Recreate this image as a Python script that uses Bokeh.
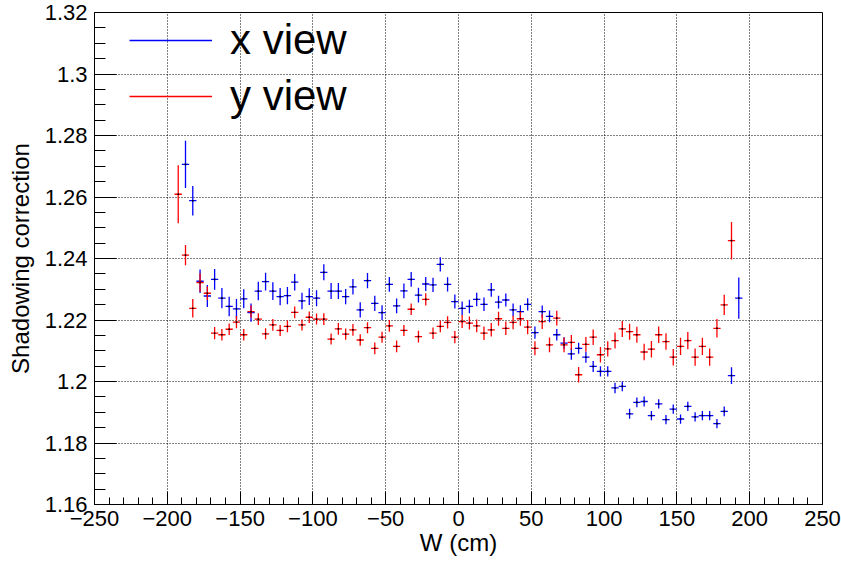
import numpy as np
from bokeh.plotting import figure
from bokeh.models import (ColumnDataSource, Range1d, FixedTicker, Legend,
                          LegendItem)
from bokeh.embed import file_html
from bokeh.resources import INLINE

# ---------------- data ----------------
bin_width = 5.0
x_view_w = [float(v) for v in np.arange(-187.5, 193.0, 5.0)]
y_view_w = [float(v) for v in np.arange(-192.5, 188.0, 5.0)]

x_view_val = [
    1.2706, 1.2588, 1.2326, 1.2278, 1.2332, 1.2271, 1.2244, 1.2236, 1.2269, 1.2224,
    1.2294, 1.2325, 1.2294, 1.2276, 1.2279, 1.2323, 1.2262, 1.2276, 1.2271, 1.2355,
    1.2294, 1.2294, 1.2276, 1.2308, 1.2233, 1.2328, 1.2254, 1.2224, 1.2316, 1.2246,
    1.2295, 1.2332, 1.2281, 1.2317, 1.2314, 1.2381, 1.2316, 1.2260, 1.2238, 1.2244,
    1.2267, 1.2251, 1.2298, 1.2258, 1.2265, 1.2233, 1.2227, 1.2251, 1.2159, 1.2227,
    1.2212, 1.2152, 1.2125, 1.2090, 1.2108, 1.2079, 1.2049, 1.2033, 1.2033, 1.1979,
    1.1984, 1.1895, 1.1932, 1.1935, 1.1889, 1.1927, 1.1876, 1.1910, 1.1878, 1.1919,
    1.1885, 1.1889, 1.1889, 1.1863, 1.1903, 1.2019, 1.2271]
x_view_err = [
    .0077, .0048, .0038, .0036, .0034, .0033, .0032, .0032, .0031, .0030,
    .0030, .0029, .0029, .0028, .0028, .0027, .0027, .0027, .0026, .0026,
    .0026, .0026, .0025, .0025, .0025, .0025, .0025, .0024, .0024, .0024,
    .0024, .0024, .0024, .0023, .0023, .0023, .0023, .0023, .0022, .0022,
    .0022, .0022, .0022, .0021, .0021, .0021, .0021, .0020, .0020, .0020,
    .0019, .0019, .0019, .0019, .0018, .0018, .0018, .0017, .0017, .0017,
    .0016, .0016, .0016, .0016, .0015, .0015, .0015, .0015, .0015, .0015,
    .0015, .0015, .0015, .0015, .0016, .0027, .0067]

y_view_val = [
    1.2609, 1.2411, 1.2238, 1.2322, 1.2287, 1.2157, 1.2152, 1.2170, 1.2193, 1.2152,
    1.2227, 1.2203, 1.2155, 1.2184, 1.2166, 1.2179, 1.2225, 1.2184, 1.2209, 1.2203,
    1.2203, 1.2138, 1.2171, 1.2154, 1.2168, 1.2135, 1.2175, 1.2108, 1.2144, 1.2181,
    1.2114, 1.2166, 1.2235, 1.2146, 1.2267, 1.2157, 1.2179, 1.2192, 1.2144, 1.2195,
    1.2190, 1.2181, 1.2157, 1.2168, 1.2204, 1.2173, 1.2192, 1.2204, 1.2177, 1.2108,
    1.2195, 1.2119, 1.2206, 1.2119, 1.2127, 1.2022, 1.2121, 1.2144, 1.2087, 1.2106,
    1.2133, 1.2171, 1.2162, 1.2152, 1.2096, 1.2105, 1.2152, 1.2130, 1.2079, 1.2114,
    1.2133, 1.2079, 1.2114, 1.2079, 1.2173, 1.2249, 1.2458]
y_view_err = [
    .0094, .0033, .0030, .0030, .0022, .0020, .0019, .0019, .0020, .0019,
    .0020, .0019, .0018, .0019, .0018, .0019, .0019, .0018, .0019, .0018,
    .0019, .0018, .0019, .0018, .0019, .0019, .0018, .0019, .0018, .0019,
    .0019, .0018, .0019, .0019, .0020, .0019, .0019, .0020, .0020, .0021,
    .0021, .0021, .0022, .0022, .0023, .0022, .0022, .0023, .0023, .0023,
    .0024, .0024, .0024, .0024, .0024, .0025, .0024, .0025, .0025, .0025,
    .0026, .0026, .0026, .0026, .0027, .0027, .0027, .0027, .0027, .0028,
    .0028, .0028, .0028, .0028, .0030, .0033, .0061]

series_names = ["x view", "y view"]
series_colors = ["#0000ff", "#ff0000"]

x_ticks = [-250, -200, -150, -100, -50, 0, 50, 100, 150, 200, 250]
x_tick_labels = ["\u2212250", "\u2212200", "\u2212150", "\u2212100", "\u221250",
                 "0", "50", "100", "150", "200", "250"]
y_ticks = [1.16, 1.18, 1.20, 1.22, 1.24, 1.26, 1.28, 1.30, 1.32]
y_tick_labels = ["1.16", "1.18", "1.2", "1.22", "1.24", "1.26", "1.28", "1.3", "1.32"]
x_minor = [float(v) for v in np.arange(-250, 251, 10)]
y_minor = [float(v) for v in np.round(np.arange(1.16, 1.3201, 0.005), 3)]

FONT = "Liberation Sans"

# ---------------- figure ----------------
p = figure(width=841, height=563, output_backend="svg", toolbar_location=None,
           x_range=Range1d(-250, 250), y_range=Range1d(1.16, 1.32),
           min_border_left=94, min_border_right=19, min_border_top=12,
           min_border_bottom=59)
p.background_fill_color = "white"
p.border_fill_color = "white"
p.outline_line_color = "black"
p.outline_line_width = 1

xt = FixedTicker(ticks=x_ticks, minor_ticks=x_minor)
yt = FixedTicker(ticks=y_ticks, minor_ticks=y_minor)
p.xaxis.ticker = xt
p.yaxis.ticker = yt
p.xgrid.ticker = xt
p.ygrid.ticker = yt
for g in (p.xgrid, p.ygrid):
    g.grid_line_color = "black"
    g.grid_line_dash = "1 2"
    g.grid_line_width = 1
    g.grid_line_alpha = 1.0

p.xaxis.major_label_overrides = {t: l for t, l in zip(x_ticks, x_tick_labels)}
p.yaxis.major_label_overrides = {t: l for t, l in zip(y_ticks, y_tick_labels)}

for ax in (p.xaxis, p.yaxis):
    ax.axis_line_color = "black"
    ax.major_tick_line_color = "black"
    ax.minor_tick_line_color = "black"
    ax.major_tick_out = 0
    ax.minor_tick_out = 0
    ax.major_label_text_font = FONT
    ax.major_label_text_font_size = "22px"
    ax.major_label_text_color = "black"
    ax.axis_label_text_font = FONT
    ax.axis_label_text_font_size = "24px"
    ax.axis_label_text_font_style = "normal"
    ax.axis_label_text_color = "black"

p.xaxis.major_tick_in = 13
p.xaxis.minor_tick_in = 7
p.yaxis.major_tick_in = 22
p.yaxis.minor_tick_in = 11
p.xaxis.major_label_standoff = 6
p.yaxis.major_label_standoff = 7
p.xaxis.axis_label = "W (cm)"
p.yaxis.axis_label = "Shadowing correction"
p.xaxis.axis_label_standoff = 0
p.yaxis.axis_label_standoff = 8

legend_items = []
for name, ws, vals, errs, col in [
        (series_names[0], x_view_w, x_view_val, x_view_err, series_colors[0]),
        (series_names[1], y_view_w, y_view_val, y_view_err, series_colors[1])]:
    ws_a = np.array(ws)
    v_a = np.array(vals)
    e_a = np.array(errs)
    src = ColumnDataSource(dict(x=ws_a, y=v_a,
                                xl=ws_a - bin_width / 2, xr=ws_a + bin_width / 2,
                                yl=v_a - e_a, yh=v_a + e_a))
    p.segment(x0="x", x1="x", y0="yl", y1="yh", source=src,
              line_color=col, line_width=1.3)
    h = p.segment(x0="xl", x1="xr", y0="y", y1="y", source=src,
                  line_color=col, line_width=1.3)
    p.scatter(x="x", y="y", source=src, marker="square", size=1.6,
              fill_color="black", line_color=None)
    legend_items.append(LegendItem(label=name, renderers=[h]))

legend = Legend(items=legend_items, location=(35, 380),
                glyph_width=83, glyph_height=56, label_height=56,
                label_standoff=18, padding=0, spacing=0, margin=0,
                label_text_font=FONT, label_text_font_size="42px",
                label_text_color="black",
                border_line_color=None, background_fill_alpha=0)
p.add_layout(legend, "center")

open("out.html", "w").write(file_html(p, INLINE))
